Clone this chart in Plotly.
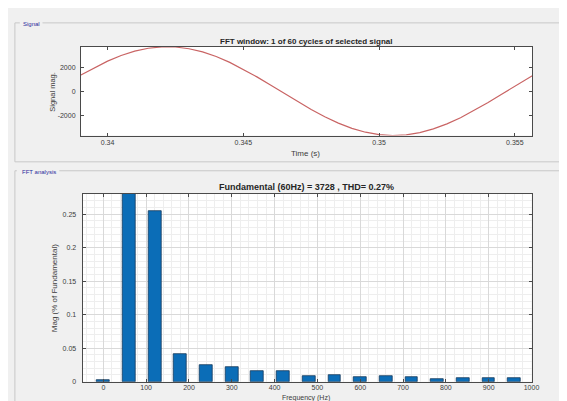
import plotly.graph_objects as go

# ---- data: signal window (time in s, magnitude) ----
time_s = [0.3390, 0.3395, 0.3400, 0.3405, 0.3410, 0.3415, 0.3420, 0.3425, 0.3430,
          0.3435, 0.3440, 0.3445, 0.3450, 0.3455, 0.3460, 0.3465, 0.3470, 0.3475,
          0.3480, 0.3485, 0.3490, 0.3495, 0.3500, 0.3505, 0.3510, 0.3515, 0.3520,
          0.3525, 0.3530, 0.3535, 0.3540, 0.3545, 0.3550, 0.3555, 0.35566]
signal_mag = [1383, 2011, 2569, 3039, 3403, 3648, 3767, 3753, 3609,
              3339, 2953, 2463, 1890, 1252, 570, -129, -822, -1483,
              -2090, -2620, -3057, -3382, -3586, -3661, -3604, -3417, -3107,
              -2686, -2167, -1568, -912, -222, 478, 1163, 1372]

# ---- data: FFT harmonics (Hz, % of fundamental) ----
freq_hz = [0, 60, 120, 180, 240, 300, 360, 420, 480, 540, 600, 660, 720, 780, 840, 900, 960]
mag_pct = [0.002, 100, 0.255, 0.041, 0.025, 0.022, 0.016, 0.016, 0.009, 0.010,
           0.007, 0.008, 0.007, 0.004, 0.0055, 0.0055, 0.005]

top_xticks = [0.34, 0.345, 0.35, 0.355]
top_yticks = [-2000, 0, 2000]
bot_xticks = [0, 100, 200, 300, 400, 500, 600, 700, 800, 900, 1000]
bot_yticks = [0, 0.05, 0.1, 0.15, 0.2, 0.25]

W, H = 567, 401
def px(x):
    return x / W
def py(y):
    return 1 - y / H

FONT = "Liberation Sans, Arial, sans-serif"
AX = "#4a4a4a"
TICKF = dict(family=FONT, size=7, color="#3c3c3c")

fig = go.Figure()
fig.add_trace(go.Scatter(x=time_s, y=signal_mag, mode="lines",
                         line=dict(color="#c96464", width=1.2),
                         xaxis="x", yaxis="y", showlegend=False))
fig.add_trace(go.Bar(x=freq_hz, y=mag_pct, width=30,
                     marker=dict(color="#0b6db7", line=dict(color="#163a5a", width=0.8)),
                     xaxis="x2", yaxis="y2", showlegend=False))

common = dict(showline=True, linecolor=AX, linewidth=1, mirror="allticks",
              ticks="inside", ticklen=3, tickcolor=AX, tickfont=TICKF, zeroline=False)

fig.update_layout(
    width=W, height=H,
    margin=dict(l=0, r=0, t=0, b=0),
    paper_bgcolor="#f0f0f0",
    plot_bgcolor="#ffffff",
    bargap=0,
    xaxis=dict(domain=[px(74), px(531.7)], range=[0.33902, 0.35564],
               tickvals=top_xticks, ticktext=["0.34", "0.345", "0.35", "0.355"],
               showgrid=False, anchor="y", **common),
    yaxis=dict(domain=[py(128.5), py(39)], range=[-3661, 3777],
               tickvals=top_yticks, ticktext=["-2000", "0", "2000"],
               showgrid=False, anchor="x", ticklabelstandoff=3, **common),
    xaxis2=dict(domain=[px(75.7), px(531)], range=[-48.4, 1000],
                tickvals=bot_xticks, showgrid=True, gridcolor="#d9d9d9", gridwidth=0.8,
                minor=dict(dtick=20, showgrid=True, gridcolor="#eeeeee", gridwidth=0.6),
                anchor="y2", ticklabelstandoff=-1, **common),
    yaxis2=dict(domain=[py(376.5), py(187.5)], range=[0, 0.2801],
                tickvals=bot_yticks, ticktext=["0", "0.05", "0.1", "0.15", "0.2", "0.25"],
                showgrid=True, gridcolor="#d9d9d9", gridwidth=0.8,
                minor=dict(dtick=0.01, showgrid=True, gridcolor="#eeeeee", gridwidth=0.6),
                anchor="x2", ticklabelstandoff=4, **common),
)

# group boxes
LINEC = "#c8c8c8"
shapes = [
    dict(type="line", xref="paper", yref="paper", x0=px(35), x1=px(567), y0=py(15), y1=py(15), line=dict(color=LINEC, width=1)),
    dict(type="line", xref="paper", yref="paper", x0=px(7), x1=px(12), y0=py(15), y1=py(15), line=dict(color=LINEC, width=1)),
    dict(type="line", xref="paper", yref="paper", x0=px(7), x1=px(7), y0=py(15), y1=py(155), line=dict(color=LINEC, width=1)),
    dict(type="line", xref="paper", yref="paper", x0=px(7), x1=px(567), y0=py(155), y1=py(155), line=dict(color=LINEC, width=1)),
    dict(type="line", xref="paper", yref="paper", x0=px(52), x1=px(567), y0=py(164), y1=py(164), line=dict(color=LINEC, width=1)),
    dict(type="line", xref="paper", yref="paper", x0=px(7), x1=px(9), y0=py(164), y1=py(164), line=dict(color=LINEC, width=1)),
    dict(type="line", xref="paper", yref="paper", x0=px(7), x1=px(7), y0=py(164), y1=py(401), line=dict(color=LINEC, width=1)),
]
fig.update_layout(shapes=shapes)

def ann(text, x, y, size=8, bold=False, color="#262626", angle=0, xanchor="center"):
    t = f"<b>{text}</b>" if bold else text
    fig.add_annotation(text=t, x=px(x), y=py(y), xref="paper", yref="paper",
                       showarrow=False, textangle=angle, xanchor=xanchor, yanchor="middle",
                       font=dict(family=FONT, size=size, color=color))

ann("Signal", 13, 16, size=6, color="#2b2b9c", xanchor="left")
ann("FFT analysis", 12, 165.5, size=6, color="#2b2b9c", xanchor="left")
ann("FFT window: 1 of 60 cycles of selected signal", 303, 34, size=8, bold=True)
ann("Signal mag.", 45, 84, size=7.5, color="#3c3c3c", angle=-90)
ann("Time (s)", 302, 147, size=8, color="#3c3c3c")
ann("Fundamental (60Hz) = 3728 , THD= 0.27%", 303, 180, size=9, bold=True)
ann("Mag (% of Fundamental)", 48, 282, size=8, color="#3c3c3c", angle=-90)
ann("Frequency (Hz)", 302, 392.5, size=7, color="#3c3c3c")

fig.write_html("out.html")
